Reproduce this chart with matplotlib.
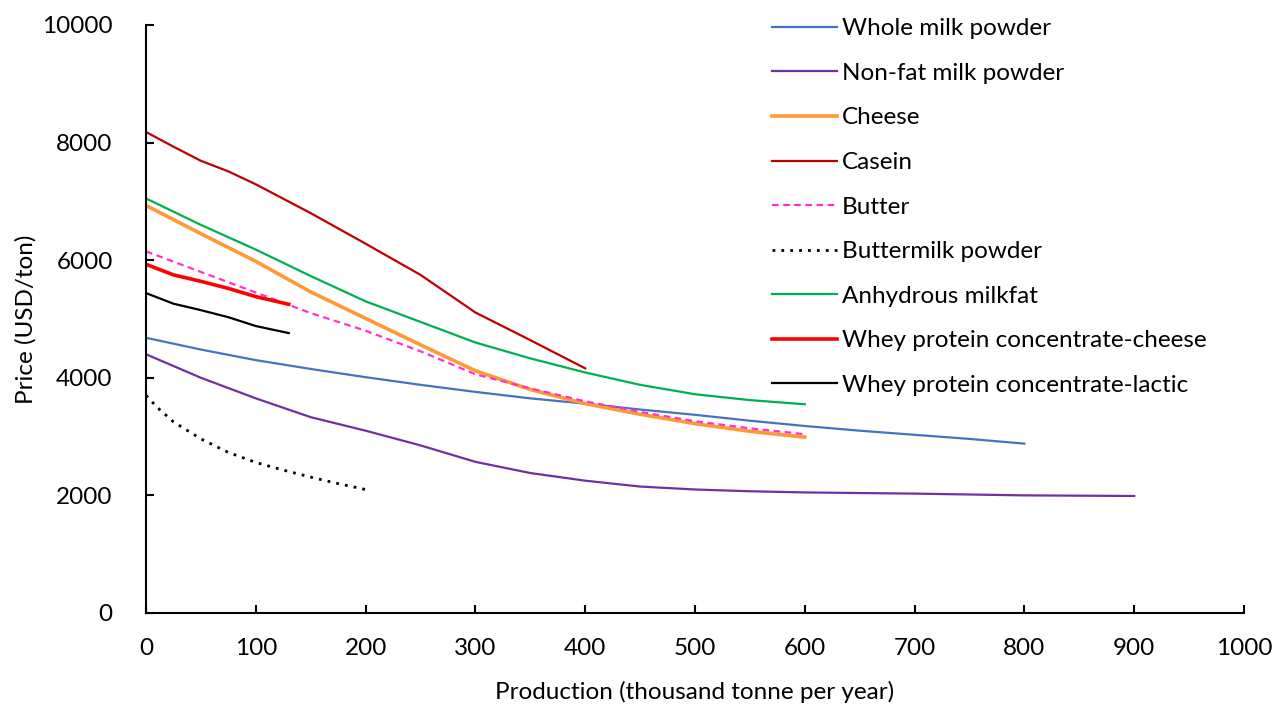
import matplotlib.pyplot as plt

plt.rcParams['font.family'] = ['Lato', 'DejaVu Sans']

# production (thousand tonne per year) and price (USD/ton)
wmp_x = [0, 50, 100, 150, 200, 250, 300, 350, 400, 450, 500, 550, 600, 650, 700, 750, 800]
wmp_y = [4680, 4480, 4300, 4150, 4010, 3880, 3760, 3650, 3560, 3460, 3370, 3270, 3180, 3100, 3030, 2960, 2880]

nfmp_x = [0, 50, 100, 150, 200, 250, 300, 350, 400, 450, 500, 550, 600, 700, 800, 900]
nfmp_y = [4400, 4000, 3650, 3330, 3100, 2850, 2570, 2380, 2250, 2150, 2100, 2070, 2050, 2030, 2000, 1990]

cheese_x = [0, 50, 100, 150, 200, 250, 300, 350, 400, 450, 500, 550, 600]
cheese_y = [6930, 6450, 5980, 5460, 5010, 4560, 4120, 3800, 3560, 3380, 3220, 3090, 2990]

casein_x = [0, 25, 50, 75, 100, 150, 200, 250, 300, 350, 400]
casein_y = [8180, 7930, 7690, 7510, 7290, 6800, 6280, 5750, 5110, 4640, 4160]

butter_x = [0, 50, 100, 150, 200, 250, 300, 350, 400, 450, 500, 550, 600]
butter_y = [6150, 5800, 5450, 5100, 4800, 4450, 4060, 3820, 3600, 3420, 3260, 3140, 3040]

bmp_x = [0, 10, 25, 50, 75, 100, 125, 150, 175, 200]
bmp_y = [3700, 3500, 3250, 2960, 2730, 2560, 2430, 2310, 2200, 2100]

amf_x = [0, 50, 100, 150, 200, 250, 300, 350, 400, 450, 500, 550, 600]
amf_y = [7050, 6600, 6180, 5730, 5300, 4950, 4600, 4330, 4090, 3880, 3720, 3620, 3550]

wpcc_x = [0, 25, 50, 75, 100, 130]
wpcc_y = [5930, 5750, 5640, 5520, 5380, 5250]

wpcl_x = [0, 25, 50, 75, 100, 130]
wpcl_y = [5440, 5260, 5150, 5030, 4880, 4760]

fig = plt.figure(figsize=(12.72, 7.04), dpi=100)
ax = fig.add_axes([0.1148, 0.1293, 0.8632, 0.8352])

ax.plot(wmp_x, wmp_y, color='#4472C4', lw=1.6, label='Whole milk powder')
ax.plot(nfmp_x, nfmp_y, color='#7030A0', lw=1.6, label='Non-fat milk powder')
ax.plot(cheese_x, cheese_y, color='#FF9933', lw=2.6, label='Cheese')
ax.plot(casein_x, casein_y, color='#C00000', lw=1.6, label='Casein')
ax.plot(butter_x, butter_y, color='#FF33CC', lw=1.6, ls=(0, (3, 2)), label='Butter')
ax.plot(bmp_x, bmp_y, color='black', lw=2, ls=(0, (1, 2.2)), label='Buttermilk powder')
ax.plot(amf_x, amf_y, color='#00B050', lw=1.6, label='Anhydrous milkfat')
ax.plot(wpcc_x, wpcc_y, color='#FF0000', lw=2.6, label='Whey protein concentrate-cheese')
ax.plot(wpcl_x, wpcl_y, color='black', lw=1.6, label='Whey protein concentrate-lactic')

ax.set_xlim(0, 1000)
ax.set_ylim(0, 10000)
ax.set_xticks(range(0, 1001, 100))
ax.set_yticks(range(0, 10001, 2000))
ax.tick_params(direction='in', length=6, width=1.5, labelsize=17.5)
ax.tick_params(axis='y', pad=24)
ax.tick_params(axis='x', pad=18)
for s in ['top', 'right']:
    ax.spines[s].set_visible(False)
for s in ['left', 'bottom']:
    ax.spines[s].set_linewidth(1.5)

ax.set_xlabel('Production (thousand tonne per year)', fontsize=17.5, labelpad=16)
ax.set_ylabel('Price (USD/ton)', fontsize=17.5, labelpad=4)

ax.legend(loc='upper left', bbox_to_anchor=(0.561, 1.028), frameon=False, fontsize=17.5,
          handlelength=2.7, handletextpad=0.18, labelspacing=0.97, borderaxespad=0)

plt.savefig('out.png', dpi=100)
